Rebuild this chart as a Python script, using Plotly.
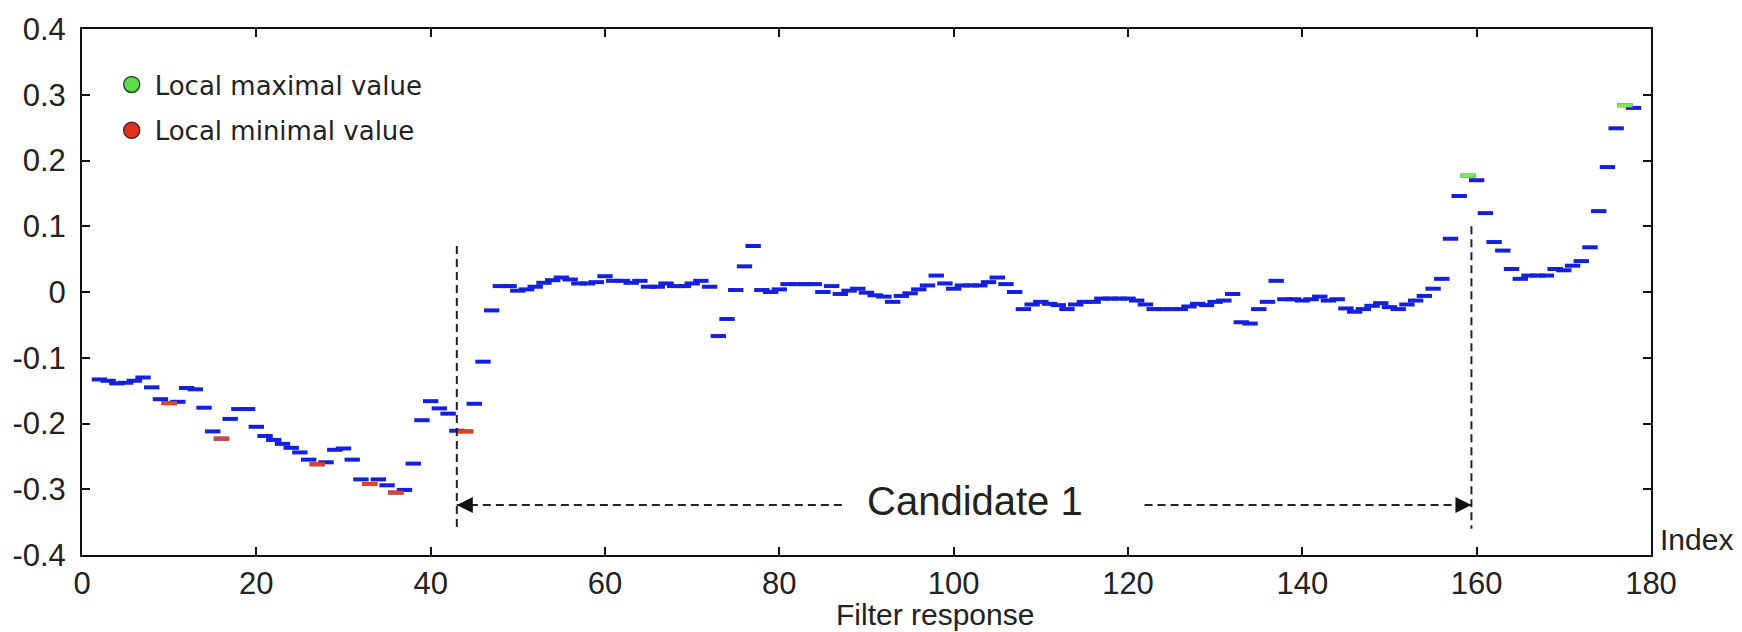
import plotly.graph_objects as go

# ---------------- data ----------------
index_start = 2
filter_response = [
    -0.133, -0.135, -0.139, -0.138, -0.135, -0.130, -0.145, -0.163, -0.169, -0.167,   # 2-11
    -0.146, -0.148, -0.176, -0.212, -0.223, -0.193, -0.178, -0.178, -0.205, -0.219,   # 12-21
    -0.225, -0.231, -0.237, -0.244, -0.255, -0.262, -0.259, -0.240, -0.238, -0.255,   # 22-31
    -0.285, -0.292, -0.285, -0.294, -0.305, -0.301, -0.261, -0.195, -0.166, -0.177,   # 32-41
    -0.185, -0.211, -0.212, -0.170, -0.106, -0.028, 0.009, 0.009, 0.002, 0.004,       # 42-51
    0.008, 0.014, 0.018, 0.022, 0.019, 0.013, 0.013, 0.015, 0.024, 0.017,             # 52-61
    0.017, 0.014, 0.017, 0.008, 0.008, 0.013, 0.009, 0.009, 0.013, 0.017,             # 62-71
    0.008, -0.067, -0.041, 0.003, 0.039, 0.070, 0.003, 0.000, 0.004, 0.012,           # 72-81
    0.012, 0.012, 0.012, 0.000, 0.009, -0.003, 0.002, 0.005, -0.001, -0.005,          # 82-91
    -0.007, -0.015, -0.006, -0.002, 0.004, 0.010, 0.025, 0.013, 0.005, 0.010,         # 92-101
    0.010, 0.010, 0.015, 0.022, 0.012, 0.000, -0.026, -0.019, -0.015, -0.018,         # 102-111
    -0.020, -0.026, -0.019, -0.015, -0.015, -0.010, -0.010, -0.010, -0.010, -0.013,   # 112-121
    -0.019, -0.026, -0.026, -0.026, -0.026, -0.022, -0.018, -0.020, -0.015, -0.013,   # 122-131
    -0.003, -0.046, -0.048, -0.026, -0.015, 0.017, -0.011, -0.011, -0.013, -0.011,    # 132-141
    -0.007, -0.013, -0.011, -0.025, -0.030, -0.026, -0.021, -0.017, -0.023, -0.026,   # 142-151
    -0.019, -0.013, -0.006, 0.005, 0.020, 0.081, 0.146, 0.177, 0.170, 0.120,          # 152-161
    0.076, 0.063, 0.035, 0.020, 0.025, 0.025, 0.025, 0.035, 0.033, 0.040,             # 162-171
    0.047, 0.068, 0.123, 0.190, 0.249, 0.284, 0.280,                                  # 172-178
]
indices = list(range(index_start, index_start + len(filter_response)))

local_min_idx = [10, 16, 27, 33, 36, 44]
local_max_idx = [159, 177]

x_ticks = [0, 20, 40, 60, 80, 100, 120, 140, 160, 180]
y_ticks = [-0.4, -0.3, -0.2, -0.1, 0, 0.1, 0.2, 0.3, 0.4]
y_tick_labels = ["-0.4", "-0.3", "-0.2", "-0.1", "0", "0.1", "0.2", "0.3", "0.4"]

candidate_start = 43.0
candidate_end = 159.4
candidate_label = "Candidate 1"

# ---------------- styling ----------------
BLUE = "#1420e0"
RED = "#e2401f"
GREEN = "#7ee65a"
TICK_FONT = dict(family="Liberation Sans, Arial, sans-serif", size=31, color="#222222")

lookup = dict(zip(indices, filter_response))
min_y = [lookup[i] for i in local_min_idx]
max_y = [lookup[i] for i in local_max_idx]

fig = go.Figure()

fig.add_trace(go.Scatter(
    x=indices, y=filter_response, mode="markers", showlegend=False,
    marker=dict(symbol="line-ew", size=11, color=BLUE, line=dict(color=BLUE, width=4)),
    hoverinfo="x+y",
))
fig.add_trace(go.Scatter(
    x=local_min_idx, y=min_y, mode="markers", showlegend=False,
    marker=dict(symbol="line-ew", size=11, color=RED, line=dict(color=RED, width=4)),
))
fig.add_trace(go.Scatter(
    x=local_max_idx, y=max_y, mode="markers", showlegend=False,
    marker=dict(symbol="line-ew", size=11, color=GREEN, line=dict(color=GREEN, width=4)),
))
# legend entries (circles)
fig.add_trace(go.Scatter(
    x=[None], y=[None], mode="markers", name="Local maximal value", legendgroup="max",
    marker=dict(symbol="circle", size=20, color="#5fdc46", line=dict(color="#2a4a2a", width=1.5)),
))
fig.add_trace(go.Scatter(
    x=[None], y=[None], mode="markers", name="Local minimal value", legendgroup="min",
    marker=dict(symbol="circle", size=20, color="#e0301e", line=dict(color="#4a2a2a", width=1.5)),
))

arrow_y = -0.324
dash_style = dict(color="#222222", width=2, dash="8px,5px")
shapes = [
    dict(type="line", xref="x", yref="y", x0=candidate_start, x1=candidate_start,
         y0=0.07, y1=-0.36, line=dash_style),
    dict(type="line", xref="x", yref="y", x0=candidate_end, x1=candidate_end,
         y0=0.10, y1=-0.36, line=dash_style),
    dict(type="line", xref="x", yref="y", x0=candidate_start, x1=87.6,
         y0=arrow_y, y1=arrow_y, line=dash_style),
    dict(type="line", xref="x", yref="y", x0=121.9, x1=candidate_end,
         y0=arrow_y, y1=arrow_y, line=dash_style),
]

annotations = [
    dict(x=candidate_start, y=arrow_y, xref="x", yref="y", text="", showarrow=True,
         ax=14, ay=0, arrowhead=2, arrowsize=1.6, arrowwidth=2, arrowcolor="#111111", standoff=0),
    dict(x=candidate_end, y=arrow_y, xref="x", yref="y", text="", showarrow=True,
         ax=-14, ay=0, arrowhead=2, arrowsize=1.6, arrowwidth=2, arrowcolor="#111111", standoff=0),
    dict(x=102.5, y=-0.318, xref="x", yref="y", text=candidate_label, showarrow=False,
         font=dict(family="Liberation Sans, Arial, sans-serif", size=40, color="#222222"),
         xanchor="center", yanchor="middle"),
    dict(x=1.0045, y=0.03, xref="paper", yref="paper", text="Index", showarrow=False,
         font=dict(family="Liberation Sans, Arial, sans-serif", size=30, color="#222222"),
         xanchor="left", yanchor="middle"),
    dict(x=97.9, y=-0.113, xref="x", yref="paper", text="Filter response", showarrow=False,
         font=dict(family="Liberation Sans, Arial, sans-serif", size=30, color="#222222"),
         xanchor="center", yanchor="middle"),
]

fig.update_layout(
    width=1742, height=632,
    margin=dict(l=82, r=91, t=21, b=77),
    paper_bgcolor="white", plot_bgcolor="white",
    shapes=shapes, annotations=annotations,
    legend=dict(
        x=0.017, y=0.939, xanchor="left", yanchor="top",
        font=dict(family="DejaVu Sans, Verdana, sans-serif", size=26, color="#222222"),
        bgcolor="rgba(0,0,0,0)", itemsizing="trace", itemwidth=36,
        traceorder="grouped", tracegroupgap=9,
    ),
    xaxis=dict(
        range=[0, 180], tickvals=x_ticks, ticktext=[str(v) for v in x_ticks],
        showline=True, mirror="ticks", linecolor="#111111", linewidth=2,
        ticks="inside", ticklen=8, tickwidth=1.5, tickcolor="#111111",
        showgrid=False, zeroline=False, tickfont=TICK_FONT, ticklabelstandoff=0,
    ),
    yaxis=dict(
        range=[-0.4, 0.4], tickvals=y_ticks, ticktext=y_tick_labels,
        showline=True, mirror="ticks", linecolor="#111111", linewidth=2,
        ticks="inside", ticklen=8, tickwidth=1.5, tickcolor="#111111",
        showgrid=False, zeroline=False, tickfont=TICK_FONT, ticklabelstandoff=8,
    ),
)

fig.write_html("out.html", config={"displayModeBar": False})

# remove the browser's default page margin so the figure fills the window exactly
with open("out.html", "r", encoding="utf-8") as f:
    html = f.read()
html = html.replace("<head>", "<head><style>html,body{margin:0;padding:0;overflow:hidden;}</style>", 1)
with open("out.html", "w", encoding="utf-8") as f:
    f.write(html)
